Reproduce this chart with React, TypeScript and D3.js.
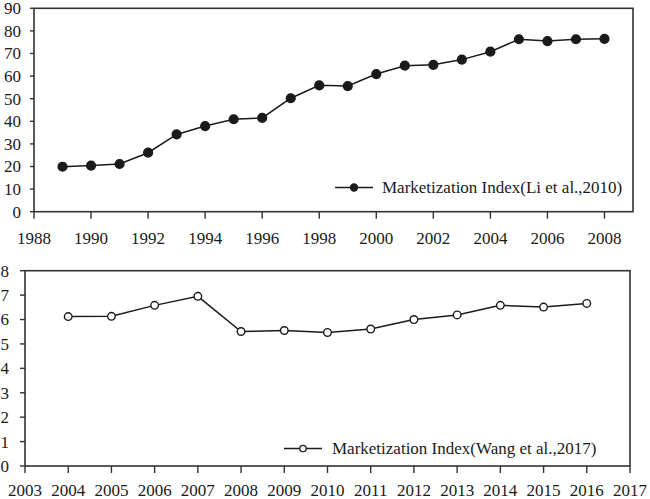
import React from "react";
import * as d3 from "d3";

const liYears = [1989,1990,1991,1992,1993,1994,1995,1996,1997,1998,1999,2000,2001,2002,2003,2004,2005,2006,2007,2008];
const liValues = [19.9,20.4,21.1,26.1,34.2,37.9,40.9,41.5,50.2,55.9,55.6,60.9,64.6,65.0,67.3,70.8,76.3,75.5,76.3,76.5];
const liXTicks = [1988,1990,1992,1994,1996,1998,2000,2002,2004,2006,2008];
const liYTicks = [0,10,20,30,40,50,60,70,80,90];

const wangYears = [2004,2005,2006,2007,2008,2009,2010,2011,2012,2013,2014,2015,2016];
const wangValues = [6.12,6.13,6.58,6.95,5.51,5.55,5.47,5.61,6.00,6.19,6.58,6.51,6.66];
const wangXTicks = [2003,2004,2005,2006,2007,2008,2009,2010,2011,2012,2013,2014,2015,2016,2017];
const wangYTicks = [0,1,2,3,4,5,6,7,8];

const FONT = "'Liberation Serif', 'Times New Roman', serif";
const INK = "#1a1a1a";

type PanelProps = {
  xDomain: [number, number];
  xRange: [number, number];
  yDomain: [number, number];
  yRange: [number, number];
  xTicks: number[];
  yTicks: number[];
  years: number[];
  values: number[];
  filled: boolean;
  r: number;
  yLabelGap: number;
  yTickLen: number;
  xLabelOffset: number;
  legend: { x1: number; x2: number; y: number; tx: number; r: number; text: string };
};

function Panel(p: PanelProps) {
  const x = d3.scaleLinear().domain(p.xDomain).range(p.xRange);
  const y = d3.scaleLinear().domain(p.yDomain).range(p.yRange);
  const line = d3.line<number>().x((_, i) => x(p.years[i])).y((v) => y(v));
  const [x0, x1] = p.xRange;
  const [y0, y1] = p.yRange;
  return (
    <g>
      <rect x={x0} y={y1} width={x1 - x0} height={y0 - y1} fill="none" stroke="#333" strokeWidth={1.6} />
      {p.yTicks.map((t) => (
        <g key={"y" + t}>
          <line x1={x0 - p.yTickLen} x2={x0} y1={y(t)} y2={y(t)} stroke="#333" strokeWidth={1.4} />
          <text x={x0 - p.yLabelGap} y={y(t)} dy="0.35em" textAnchor="end" fontFamily={FONT} fontSize={17} fill={INK}>
            {t}
          </text>
        </g>
      ))}
      {p.xTicks.map((t) => (
        <g key={"x" + t}>
          <line x1={x(t)} x2={x(t)} y1={y0} y2={y0 + 7} stroke="#333" strokeWidth={1.4} />
          <text x={x(t)} y={y0 + p.xLabelOffset} textAnchor="middle" fontFamily={FONT} fontSize={17} fill={INK}>
            {t}
          </text>
        </g>
      ))}
      <path d={line(p.values) || ""} fill="none" stroke={INK} strokeWidth={1.5} />
      {p.values.map((v, i) => (
        <circle
          key={"c" + i}
          cx={x(p.years[i])}
          cy={y(v)}
          r={p.r}
          fill={p.filled ? INK : "#fff"}
          stroke={INK}
          strokeWidth={1.4}
        />
      ))}
      <line x1={p.legend.x1} x2={p.legend.x2} y1={p.legend.y} y2={p.legend.y} stroke={INK} strokeWidth={1.5} />
      <circle
        cx={(p.legend.x1 + p.legend.x2) / 2}
        cy={p.legend.y}
        r={p.legend.r}
        fill={p.filled ? INK : "#fff"}
        stroke={INK}
        strokeWidth={1.3}
      />
      <text x={p.legend.tx} y={p.legend.y} dy="0.35em" fontFamily={FONT} fontSize={17} fill={INK}>
        {p.legend.text}
      </text>
    </g>
  );
}

export default function App() {
  return (
    <svg
      width={650}
      height={499}
      viewBox="0 0 650 499"
      style={{ position: "absolute", left: 0, top: 0, background: "#fff" }}
    >
      <rect width={650} height={499} fill="#fff" />
      <Panel
        xDomain={[1988, 2009]}
        xRange={[34, 633]}
        yDomain={[0, 90]}
        yRange={[211.7, 8.3]}
        xTicks={liXTicks}
        yTicks={liYTicks}
        years={liYears}
        values={liValues}
        filled={true}
        r={4.4}
        yLabelGap={13}
        yTickLen={4}
        xLabelOffset={32}
        legend={{ x1: 335, x2: 373, y: 187.5, tx: 382, r: 3.5, text: "Marketization Index(Li et al.,2010)" }}
      />
      <Panel
        xDomain={[2003, 2017]}
        xRange={[25, 630]}
        yDomain={[0, 8]}
        yRange={[466, 270.7]}
        xTicks={wangXTicks}
        yTicks={wangYTicks}
        years={wangYears}
        values={wangValues}
        filled={false}
        r={3.8}
        yLabelGap={16}
        yTickLen={5}
        xLabelOffset={30}
        legend={{ x1: 284, x2: 322, y: 448.5, tx: 332, r: 3.2, text: "Marketization Index(Wang et al.,2017)" }}
      />
    </svg>
  );
}
